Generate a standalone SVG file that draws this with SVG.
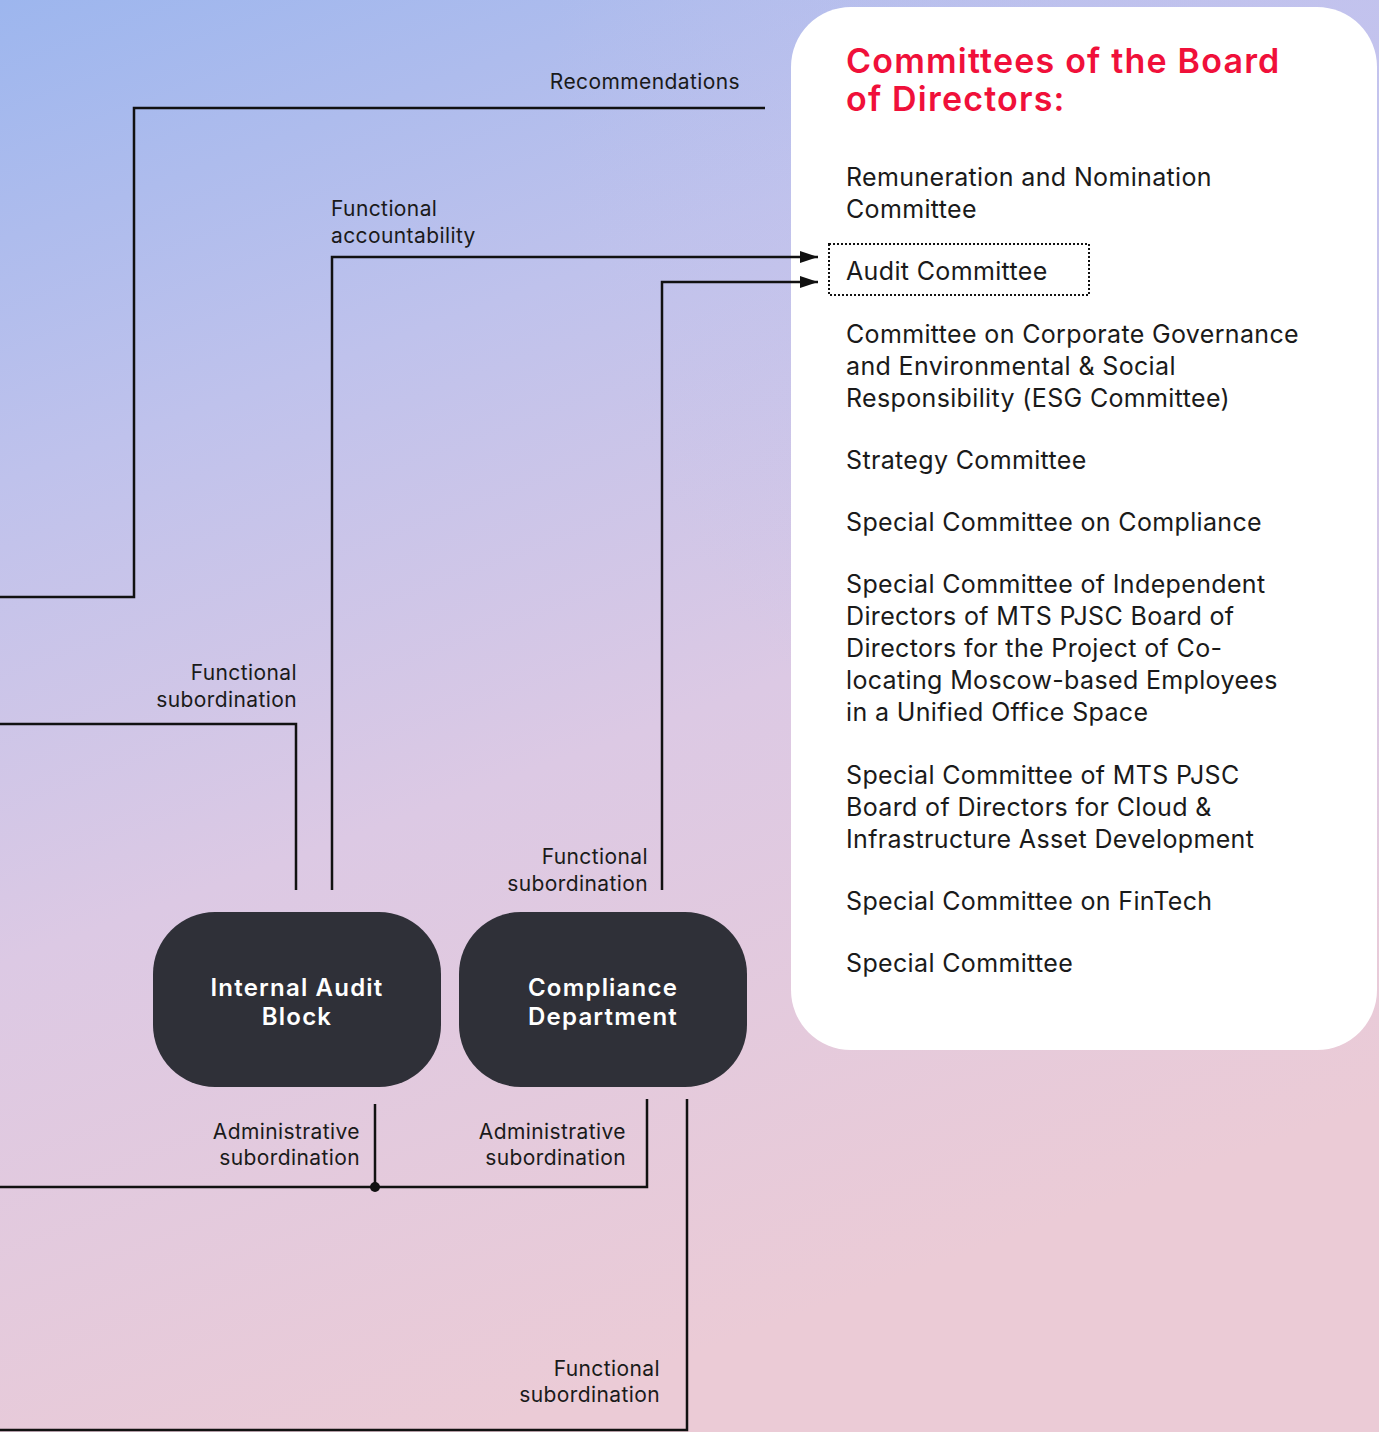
<svg xmlns="http://www.w3.org/2000/svg" width="1379" height="1432" viewBox="0 0 1379 1432">
  <defs>
    <linearGradient id="bg" x1="0" y1="0" x2="0.35" y2="1">
      <stop offset="0" stop-color="#9db6ee"/>
      <stop offset="0.3" stop-color="#bfc2ec"/>
      <stop offset="0.6" stop-color="#dcc9e4"/>
      <stop offset="1" stop-color="#ebcbd6"/>
    </linearGradient>
    <radialGradient id="glow" cx="1" cy="0.05" r="0.6">
      <stop offset="0" stop-color="#c3c3ee" stop-opacity="0.8"/>
      <stop offset="1" stop-color="#c3c3ee" stop-opacity="0"/>
    </radialGradient>
    <marker id="arrow" viewBox="0 0 18 12" refX="18" refY="6" markerWidth="18" markerHeight="12" markerUnits="userSpaceOnUse" orient="auto">
      <path d="M0,0 L18,6 L0,12 z" fill="#111"/>
    </marker>
    <style>
      .line { fill: none; stroke: #111; stroke-width: 2.5; }
      .label { font-family: "Inter", "Liberation Sans", sans-serif; font-size: 21px; letter-spacing: 0.4px; fill: #1a1a1a; }
      .item { font-family: "Inter", "Liberation Sans", sans-serif; font-size: 25px; letter-spacing: 0.35px; fill: #1a1a1a; }
      .title { font-family: "Inter", "Liberation Sans", sans-serif; font-size: 34px; font-weight: 600; letter-spacing: 1.2px; fill: #f0103a; }
      .node rect { fill: #2f3038; }
      .node text { font-family: "Inter", "Liberation Sans", sans-serif; font-size: 24px; font-weight: 600; letter-spacing: 1.2px; fill: #ffffff; text-anchor: middle; }
    </style>
  </defs>

  <!-- background -->
  <rect width="1379" height="1432" fill="url(#bg)"/>
  <rect width="1379" height="1432" fill="url(#glow)"/>

  <!-- committees panel -->
  <g id="committees">
    <rect x="791" y="7" width="586" height="1043" rx="60" fill="#ffffff"/>
    <text class="title" x="846" y="73">Committees of the Board</text>
    <text class="title" x="846" y="111">of Directors:</text>
    <text class="item" x="846" y="186">Remuneration and Nomination</text>
    <text class="item" x="846" y="218">Committee</text>
    <g id="audit-committee">
      <rect x="829" y="244" width="260" height="51" fill="none" stroke="#111" stroke-width="2" stroke-dasharray="2 2"/>
      <text class="item" x="846" y="280">Audit Committee</text>
    </g>
    <text class="item" x="846" y="343">Committee on Corporate Governance</text>
    <text class="item" x="846" y="375">and Environmental &amp; Social</text>
    <text class="item" x="846" y="407">Responsibility (ESG Committee)</text>
    <text class="item" x="846" y="469">Strategy Committee</text>
    <text class="item" x="846" y="531">Special Committee on Compliance</text>
    <text class="item" x="846" y="593">Special Committee of Independent</text>
    <text class="item" x="846" y="625">Directors of MTS PJSC Board of</text>
    <text class="item" x="846" y="657">Directors for the Project of Co-</text>
    <text class="item" x="846" y="689">locating Moscow-based Employees</text>
    <text class="item" x="846" y="721">in a Unified Office Space</text>
    <text class="item" x="846" y="784">Special Committee of MTS PJSC</text>
    <text class="item" x="846" y="816">Board of Directors for Cloud &amp;</text>
    <text class="item" x="846" y="848">Infrastructure Asset Development</text>
    <text class="item" x="846" y="910">Special Committee on FinTech</text>
    <text class="item" x="846" y="972">Special Committee</text>
  </g>

  <!-- connectors -->
  <g id="connectors">
    <polyline class="line" points="0,597 134,597 134,108 765,108"/>
    <polyline class="line" points="332,890 332,257 818,257" marker-end="url(#arrow)"/>
    <polyline class="line" points="662,890 662,282 818,282" marker-end="url(#arrow)"/>
    <polyline class="line" points="0,724 296,724 296,890"/>
    <polyline class="line" points="375,1104 375,1187"/>
    <polyline class="line" points="0,1187 647,1187 647,1099"/>
    <circle cx="375" cy="1187" r="5" fill="#111"/>
    <polyline class="line" points="687,1099 687,1430 0,1430"/>

    <text class="label" x="740" y="89" text-anchor="end">Recommendations</text>
    <text class="label" x="331" y="216">Functional</text>
    <text class="label" x="331" y="243">accountability</text>
    <text class="label" x="297" y="680" text-anchor="end">Functional</text>
    <text class="label" x="297" y="707" text-anchor="end">subordination</text>
    <text class="label" x="648" y="864" text-anchor="end">Functional</text>
    <text class="label" x="648" y="891" text-anchor="end">subordination</text>
    <text class="label" x="360" y="1139" text-anchor="end">Administrative</text>
    <text class="label" x="360" y="1165" text-anchor="end">subordination</text>
    <text class="label" x="626" y="1139" text-anchor="end">Administrative</text>
    <text class="label" x="626" y="1165" text-anchor="end">subordination</text>
    <text class="label" x="660" y="1376" text-anchor="end">Functional</text>
    <text class="label" x="660" y="1402" text-anchor="end">subordination</text>
  </g>

  <!-- units -->
  <g id="internal-audit" class="node">
    <rect x="153" y="912" width="288" height="175" rx="62"/>
    <text x="297" y="996">Internal Audit</text>
    <text x="297" y="1025">Block</text>
  </g>
  <g id="compliance" class="node">
    <rect x="459" y="912" width="288" height="175" rx="62"/>
    <text x="603" y="996">Compliance</text>
    <text x="603" y="1025">Department</text>
  </g>
</svg>
